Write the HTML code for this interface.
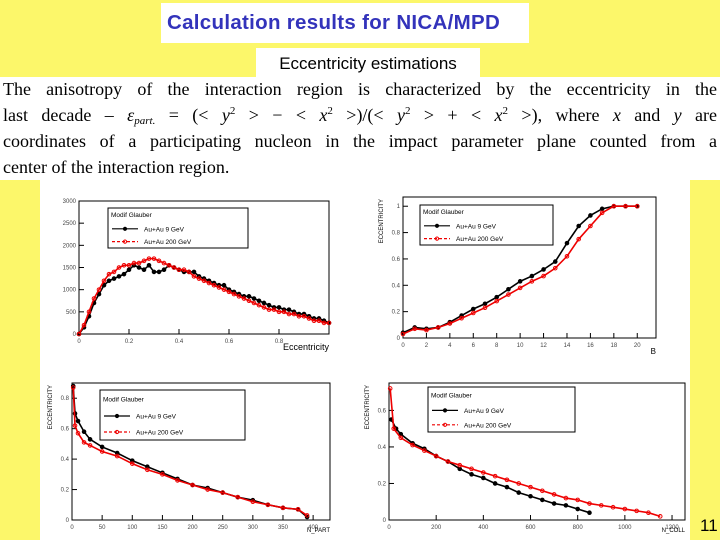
<!DOCTYPE html>
<html><head><meta charset="utf-8"><style>
body{margin:0;width:720px;height:540px;background:#fcf76a;position:relative;overflow:hidden;font-family:"Liberation Sans",sans-serif}
.abs{position:absolute}
#title{left:161px;top:3px;width:368px;height:40px;background:#fff;color:#3333bb;font-weight:bold;font-size:20.5px;line-height:40px;padding-left:6px;box-sizing:border-box;letter-spacing:0.3px}
#sub{left:256px;top:48px;width:224px;height:29px;background:#fff;font-size:17px;line-height:31px;text-align:center}
#para{left:0;top:77px;width:720px;height:103px;background:#fff;font-family:"Liberation Serif",serif;font-size:18px}
#para div{position:absolute;left:3px;width:714px;text-align:justify;text-align-last:justify;white-space:nowrap;line-height:20px;height:20px}
#para sub,#para sup{font-size:11px;line-height:0;vertical-align:baseline;position:relative}
#para sup{top:-7px}#para sub{top:3px}
#panel{left:40px;top:180px;width:650px;height:360px;background:#fff}
#pg{left:700px;top:516px;font-size:17px}
svg text{font-family:"Liberation Sans",sans-serif}
</style></head><body>
<div id="title" class="abs">Calculation results for NICA/MPD</div>
<div id="sub" class="abs">Eccentricity estimations</div>
<div id="para" class="abs">
<div style="top:2px">The anisotropy of the interaction region is characterized by the eccentricity in the</div>
<div style="top:28px">last decade – <i>ε<sub>part.</sub></i> = (&lt; <i>y</i><sup>2</sup> &gt; − &lt; <i>x</i><sup>2</sup> &gt;)/(&lt; <i>y</i><sup>2</sup> &gt; + &lt; <i>x</i><sup>2</sup> &gt;), where <i>x</i> and <i>y</i> are</div>
<div style="top:54px">coordinates of a participating nucleon in the impact parameter plane counted from a</div>
<div style="top:80px;text-align-last:left">center of the interaction region.</div>
</div>
<div id="panel" class="abs"></div>
<div id="pg" class="abs">11</div>
<svg id="svg" class="abs" style="left:0;top:0" width="720" height="540"></svg>
<script>
// Chart 1: eccentricity distribution
const c1x=[0,.02,.04,.06,.08,.1,.12,.14,.16,.18,.2,.22,.24,.26,.28,.3,.32,.34,.36,.38,.4,.42,.44,.46,.48,.5,.52,.54,.56,.58,.6,.62,.64,.66,.68,.7,.72,.74,.76,.78,.8,.82,.84,.86,.88,.9,.92,.94,.96,.98,1];
const c1black=[0,150,400,700,900,1100,1200,1250,1300,1350,1450,1550,1500,1450,1550,1400,1400,1450,1550,1500,1450,1400,1400,1400,1300,1250,1200,1150,1100,1100,1000,950,900,850,850,800,750,700,650,600,600,550,550,500,450,450,400,350,350,300,250];
const c1red=[0,200,500,800,1000,1200,1350,1400,1500,1550,1550,1600,1600,1650,1700,1700,1650,1600,1550,1500,1450,1450,1400,1300,1250,1200,1150,1100,1050,1000,950,900,850,800,750,700,650,600,550,550,500,500,450,450,400,400,350,300,300,250,250];
const c1xt=[0,0.2,0.4,0.6,0.8];const c1yt=[0,500,1000,1500,2000,2500,3000];
// Chart 2: eccentricity vs B
const c2x=[0,1,2,3,4,5,6,7,8,9,10,11,12,13,14,15,16,17,18,19,20];
const c2black=[.04,.08,.07,.08,.12,.17,.22,.26,.31,.37,.43,.47,.52,.58,.72,.85,.93,.98,1,1,1];
const c2red=[.03,.07,.06,.08,.11,.15,.19,.23,.28,.33,.38,.43,.47,.53,.62,.75,.85,.95,1,1,1];
const c2xt=[0,2,4,6,8,10,12,14,16,18,20];const c2yt=[0,.2,.4,.6,.8,1];
// Chart 3: eccentricity vs N_PART
const c3x=[2,5,10,20,30,50,75,100,125,150,175,200,225,250,275,300,325,350,375,390];
const c3black=[.88,.70,.65,.58,.53,.48,.44,.39,.35,.31,.27,.23,.21,.18,.15,.13,.10,.08,.07,.02];
const c3red=[.87,.62,.57,.51,.49,.45,.42,.37,.33,.30,.26,.23,.20,.18,.15,.12,.10,.08,.07,.03];
const c3xt=[0,50,100,150,200,250,300,350,400];const c3yt=[0,.2,.4,.6,.8];
// Chart 4: eccentricity vs N_COLL
const c4xb=[10,30,50,100,150,200,250,300,350,400,450,500,550,600,650,700,750,800,850];
const c4black=[.55,.5,.47,.42,.39,.35,.32,.28,.25,.23,.2,.18,.15,.13,.11,.09,.08,.06,.04];
const c4xr=[5,20,50,100,150,200,250,300,350,400,450,500,550,600,650,700,750,800,850,900,950,1000,1050,1100,1150];
const c4red=[.72,.5,.45,.41,.38,.35,.32,.3,.28,.26,.24,.22,.2,.18,.16,.14,.12,.11,.09,.08,.07,.06,.05,.04,.02];
const c4xt=[0,200,400,600,800,1000,1200];const c4yt=[0,.2,.4,.6];

const NS='http://www.w3.org/2000/svg',svg=document.getElementById('svg');
function mk(t,a,p){const e=document.createElementNS(NS,t);for(const k in a)e.setAttribute(k,a[k]);(p||svg).appendChild(e);return e;}
function chart(o){
 const g=mk('g',{});
 
 
 const X=v=>o.x0+(v-o.xmin)/(o.xmax-o.xmin)*(o.x1-o.x0);
 const Y=v=>o.y0-(v-o.ymin)/(o.ymax-o.ymin)*(o.y0-o.y1);
 const fr=mk('rect',{x:o.x0,y:o.y1,width:o.x1-o.x0,height:o.y0-o.y1,fill:'none',stroke:'#000','stroke-width':1},g);
 
 
 o.xt.forEach(v=>{mk('line',{x1:X(v),x2:X(v),y1:o.y0,y2:o.y0-5,stroke:'#000'},g);
  const t=mk('text',{x:X(v),y:o.y0+9,'font-size':6,'text-anchor':'middle',fill:'#444'},g);t.textContent=v;
  
  });
 o.yt.forEach(v=>{mk('line',{x1:o.x0,x2:o.x0+5,y1:Y(v),y2:Y(v),stroke:'#000'},g);
  const t=mk('text',{x:o.x0-3,y:Y(v)+2,'font-size':6,'text-anchor':'end',fill:'#444'},g);t.textContent=v;
  
  });
 const xl=mk('text',{x:o.x1,y:o.y0+(o.xlfs>7?16:12),'font-size':o.xlfs,'text-anchor':'end'},g);xl.textContent=o.xl;
 
 
 if(o.yl){const yl=mk('text',{x:0,y:0,'font-size':6,'text-anchor':'end',transform:`translate(${o.x0-20},${o.y1+2}) rotate(-90)`},g);yl.textContent=o.yl;
  
  }
 o.series.forEach(s=>{
  const pts=s.x.map((v,i)=>X(v)+','+Y(s.y[i])).join(' ');
  const pl=mk('polyline',{points:pts,fill:'none',stroke:s.c,'stroke-width':1.6},g);
  
  
  s.x.forEach((v,i)=>{const c=mk('circle',{cx:X(v),cy:Y(s.y[i]),r:1.8,fill:s.c==='#000'?'#000':'none',stroke:s.c,'stroke-width':1},g);
   
   });
 });
 const L=o.leg;
 const lg=mk('g',{},g);
 
 
 mk('rect',{x:L[0],y:L[1],width:L[2],height:L[3],fill:'#fff',stroke:'#000'},lg);
 const t0=mk('text',{x:L[0]+3,y:L[1]+L[3]*0.23,'font-size':6.5},lg);t0.textContent='Modif Glauber';
 o.series.forEach((s,i)=>{const yy=L[1]+L[3]*(0.52+i*0.32);
  mk('line',{x1:L[0]+4,x2:L[0]+30,y1:yy,y2:yy,stroke:s.c,'stroke-width':1.2,'stroke-dasharray':s.c==='#000'?'':'3,2'},lg);
  mk('circle',{cx:L[0]+17,cy:yy,r:1.6,fill:s.c==='#000'?'#000':'none',stroke:s.c},lg);
  const t=mk('text',{x:L[0]+36,y:yy+2.5,'font-size':6.5},lg);t.textContent=s.lab;
  
  });
}
chart({name:'eccentricity-histogram',x0:79,x1:329,y0:334,y1:201,xmin:0,xmax:1,ymin:0,ymax:3000,xt:c1xt,yt:c1yt,xl:'Eccentricity',xlfs:9,
 series:[{x:c1x,y:c1black,c:'#000',n:'au9',lab:'Au+Au 9 GeV'},{x:c1x,y:c1red,c:'#e00',n:'au200',lab:'Au+Au 200 GeV'}],leg:[108,208,140,40]});
chart({name:'eccentricity-vs-b',x0:403,x1:656,y0:338,y1:197,xmin:0,xmax:21.6,ymin:0,ymax:1.07,xt:c2xt,yt:c2yt,xl:'B',xlfs:8,yl:'ECCENTRICITY',
 series:[{x:c2x,y:c2black,c:'#000',n:'au9',lab:'Au+Au 9 GeV'},{x:c2x,y:c2red,c:'#e00',n:'au200',lab:'Au+Au 200 GeV'}],leg:[420,205,133,40]});
chart({name:'eccentricity-vs-npart',x0:72,x1:330,y0:520,y1:383,xmin:0,xmax:428,ymin:0,ymax:0.9,xt:c3xt,yt:c3yt,xl:'N_PART',xlfs:6,yl:'ECCENTRICITY',
 series:[{x:c3x,y:c3black,c:'#000',n:'au9',lab:'Au+Au 9 GeV'},{x:c3x,y:c3red,c:'#e00',n:'au200',lab:'Au+Au 200 GeV'}],leg:[100,390,145,50]});
chart({name:'eccentricity-vs-ncoll',x0:389,x1:685,y0:520,y1:383,xmin:0,xmax:1255,ymin:0,ymax:0.75,xt:c4xt,yt:c4yt,xl:'N_COLL',xlfs:6,yl:'ECCENTRICITY',
 series:[{x:c4xb,y:c4black,c:'#000',n:'au9',lab:'Au+Au 9 GeV'},{x:c4xr,y:c4red,c:'#e00',n:'au200',lab:'Au+Au 200 GeV'}],leg:[428,387,147,45]});
</script>
</body></html>
